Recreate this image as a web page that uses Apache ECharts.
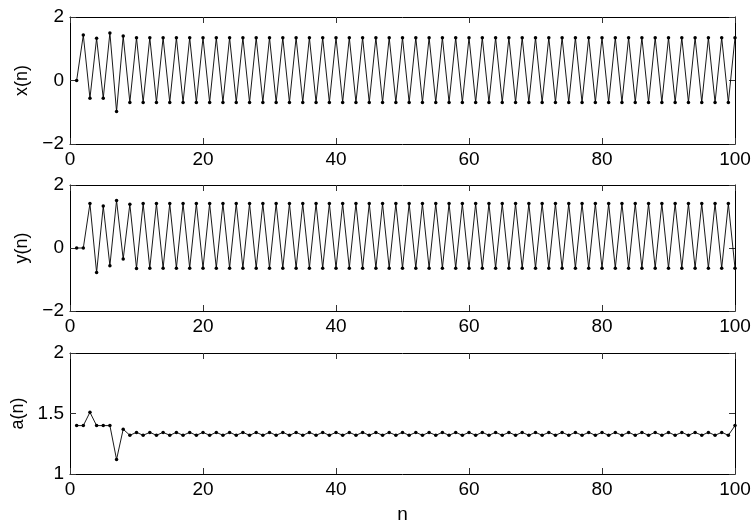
<!DOCTYPE html>
<html>
<head>
<meta charset="utf-8">
<script src="https://cdn.jsdelivr.net/npm/echarts@6/dist/echarts.min.js"></script>
<style>
html,body{margin:0;padding:0;background:#fff;}
#c{width:756px;height:525px;}
</style>
</head>
<body>
<div id="c"></div>
<script>
const n = [1,2,3,4,5,6,7,8,9,10,
  11,12,13,14,15,16,17,18,19,20,
  21,22,23,24,25,26,27,28,29,30,
  31,32,33,34,35,36,37,38,39,40,
  41,42,43,44,45,46,47,48,49,50,
  51,52,53,54,55,56,57,58,59,60,
  61,62,63,64,65,66,67,68,69,70,
  71,72,73,74,75,76,77,78,79,80,
  81,82,83,84,85,86,87,88,89,90,
  91,92,93,94,95,96,97,98,99,100];

const xVals = [0, 1.43, -0.56, 1.33, -0.56, 1.50, -0.98, 1.40, -0.69, 1.35,
  -0.69, 1.35, -0.69, 1.35, -0.69, 1.35, -0.69, 1.35, -0.69, 1.35,
  -0.69, 1.35, -0.69, 1.35, -0.69, 1.35, -0.69, 1.35, -0.69, 1.35,
  -0.69, 1.35, -0.69, 1.35, -0.69, 1.35, -0.69, 1.35, -0.69, 1.35,
  -0.69, 1.35, -0.69, 1.35, -0.69, 1.35, -0.69, 1.35, -0.69, 1.35,
  -0.69, 1.35, -0.69, 1.35, -0.69, 1.35, -0.69, 1.35, -0.69, 1.35,
  -0.69, 1.35, -0.69, 1.35, -0.69, 1.35, -0.69, 1.35, -0.69, 1.35,
  -0.69, 1.35, -0.69, 1.35, -0.69, 1.35, -0.69, 1.35, -0.69, 1.35,
  -0.69, 1.35, -0.69, 1.35, -0.69, 1.35, -0.69, 1.35, -0.69, 1.35,
  -0.69, 1.35, -0.69, 1.35, -0.69, 1.35, -0.69, 1.35, -0.69, 1.35];

const yVals = [0, 0, 1.41, -0.78, 1.33, -0.56, 1.51, -0.35, 1.39, -0.65,
  1.41, -0.64, 1.41, -0.64, 1.41, -0.64, 1.41, -0.64, 1.41, -0.64,
  1.41, -0.64, 1.41, -0.64, 1.41, -0.64, 1.41, -0.64, 1.41, -0.64,
  1.41, -0.64, 1.41, -0.64, 1.41, -0.64, 1.41, -0.64, 1.41, -0.64,
  1.41, -0.64, 1.41, -0.64, 1.41, -0.64, 1.41, -0.64, 1.41, -0.64,
  1.41, -0.64, 1.41, -0.64, 1.41, -0.64, 1.41, -0.64, 1.41, -0.64,
  1.41, -0.64, 1.41, -0.64, 1.41, -0.64, 1.41, -0.64, 1.41, -0.64,
  1.41, -0.64, 1.41, -0.64, 1.41, -0.64, 1.41, -0.64, 1.41, -0.64,
  1.41, -0.64, 1.41, -0.64, 1.41, -0.64, 1.41, -0.64, 1.41, -0.64,
  1.41, -0.64, 1.41, -0.64, 1.41, -0.64, 1.41, -0.64, 1.41, -0.64];

const aVals = [1.40, 1.40, 1.51, 1.40, 1.40, 1.40, 1.12, 1.37, 1.32, 1.344,
  1.32, 1.344, 1.32, 1.344, 1.32, 1.344, 1.32, 1.344, 1.32, 1.344,
  1.32, 1.344, 1.32, 1.344, 1.32, 1.344, 1.32, 1.344, 1.32, 1.344,
  1.32, 1.344, 1.32, 1.344, 1.32, 1.344, 1.32, 1.344, 1.32, 1.344,
  1.32, 1.344, 1.32, 1.344, 1.32, 1.344, 1.32, 1.344, 1.32, 1.344,
  1.32, 1.344, 1.32, 1.344, 1.32, 1.344, 1.32, 1.344, 1.32, 1.344,
  1.32, 1.344, 1.32, 1.344, 1.32, 1.344, 1.32, 1.344, 1.32, 1.344,
  1.32, 1.344, 1.32, 1.344, 1.32, 1.344, 1.32, 1.344, 1.32, 1.344,
  1.32, 1.344, 1.32, 1.344, 1.32, 1.344, 1.32, 1.344, 1.32, 1.344,
  1.32, 1.344, 1.32, 1.344, 1.32, 1.344, 1.32, 1.344, 1.32, 1.40];

const xTicks = [0, 20, 40, 60, 80, 100];
const panelNames = ['x(n)', 'y(n)', 'a(n)'];
const yRanges = [[-2, 2, 2], [-2, 2, 2], [1, 2, 0.5]];
const seriesData = [xVals, yVals, aVals];

const FONT = 'Liberation Sans';
const tops = [17, 185, 353];
const heights = [127, 126, 126];
const nameGaps = [34, 34, 35];

const grids = [], xAxes = [], yAxes = [], series = [];
const fmt = v => String(v).replace('-', '\u2212');

for (let i = 0; i < 3; i++) {
  grids.push({left: 70, right: 21, top: tops[i], height: heights[i], containLabel: false});
  const common = {
    type: 'value', gridIndex: i, min: xTicks[0], max: xTicks[xTicks.length - 1],
    interval: xTicks[1] - xTicks[0], splitLine: {show: false},
    axisLine: {show: true, onZero: false, lineStyle: {color: '#000', width: 1}},
    axisTick: {show: true, inside: true, length: 6, lineStyle: {color: '#333', width: 1}}
  };
  xAxes.push(Object.assign({}, common, {
    position: 'bottom',
    axisLabel: {show: true, color: '#000', fontFamily: FONT, fontSize: 19, margin: 6, formatter: fmt},
    name: i === 2 ? 'n' : '', nameLocation: 'middle', nameGap: 31,
    nameTextStyle: {color: '#000', fontFamily: FONT, fontSize: 19}
  }));
  xAxes.push(Object.assign({}, common, {position: 'top', axisLabel: {show: false}}));
  const [ymin, ymax, yint] = yRanges[i];
  const ycommon = {
    type: 'value', gridIndex: i, min: ymin, max: ymax, interval: yint,
    splitLine: {show: false},
    axisLine: {show: true, onZero: false, lineStyle: {color: '#000', width: 1}},
    axisTick: {show: true, inside: true, length: 6, lineStyle: {color: '#333', width: 1}}
  };
  yAxes.push(Object.assign({}, ycommon, {
    position: 'left',
    axisLabel: {show: true, color: '#000', fontFamily: FONT, fontSize: 19, margin: 6, formatter: fmt},
    name: panelNames[i], nameLocation: 'middle', nameGap: nameGaps[i],
    nameTextStyle: {color: '#000', fontFamily: FONT, fontSize: 18}
  }));
  yAxes.push(Object.assign({}, ycommon, {position: 'right', axisLabel: {show: false}}));
  series.push({
    type: 'line', xAxisIndex: 2 * i, yAxisIndex: 2 * i,
    data: n.map((v, k) => [v, seriesData[i][k]]),
    symbol: 'circle', symbolSize: 3.5, showSymbol: true,
    lineStyle: {color: '#000', width: 0.9},
    itemStyle: {color: '#000'},
    animation: false, silent: true
  });
}

const chart = echarts.init(document.getElementById('c'), null, {renderer: 'canvas'});
chart.setOption({
  backgroundColor: '#fff',
  animation: false,
  grid: grids, xAxis: xAxes, yAxis: yAxes, series: series
});
</script>
</body>
</html>
